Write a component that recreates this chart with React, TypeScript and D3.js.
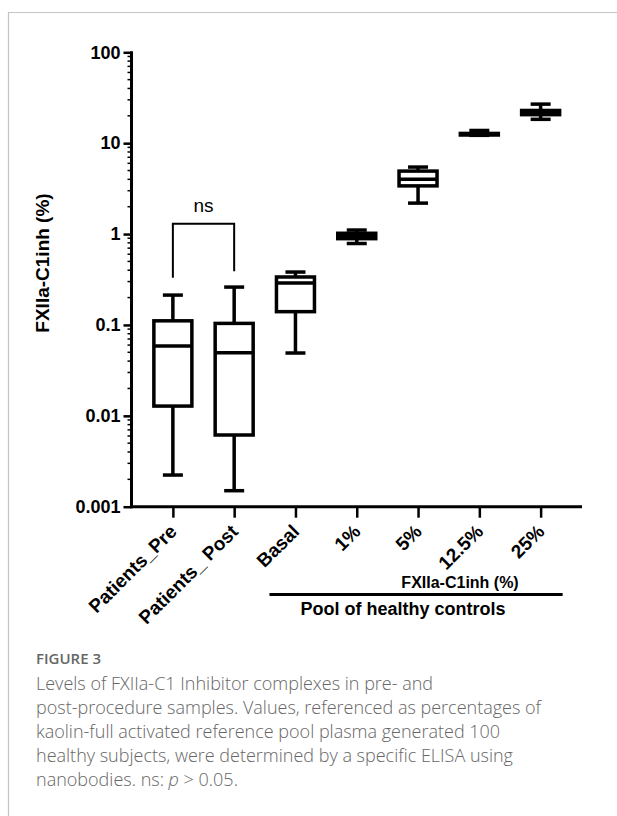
import { useRef, useEffect } from 'react';
import * as d3 from 'd3';

// groups on the x axis
const categories = ['Patients_Pre', 'Patients_ Post', 'Basal', '1%', '5%', '12.5%', '25%'];

// box statistics per group (FXIIa-C1inh, %)
const whiskerLow = [0.00223, 0.0015, 0.0491, 0.787, 2.19, 12.2, 18.3];
const quartile1 = [0.0128, 0.00615, 0.14, 0.89, 3.39, 12.3, 20.6];
const medians = [0.0586, 0.0494, 0.289, 0.95, 4.0, 12.6, 21.7];
const quartile3 = [0.111, 0.104, 0.337, 1.02, 4.93, 12.8, 22.9];
const whiskerHigh = [0.213, 0.261, 0.382, 1.107, 5.46, 13.8, 26.9];

const yTicks = [0.001, 0.01, 0.1, 1, 10, 100];
const yTickLabels = ['0.001', '0.01', '0.1', '1', '10', '100'];

const captionLines = [
    'Levels of FXIIa-C1 Inhibitor complexes in pre- and',
    'post-procedure samples. Values, referenced as percentages of',
    'kaolin-full activated reference pool plasma generated 100',
    'healthy subjects, were determined by a specific ELISA using',
];

function BoxPlot() {
    const ref = useRef<SVGSVGElement>(null);

    useEffect(() => {
        d3.select(ref.current).selectAll('*').remove();
        const svg = d3.select(ref.current);
        const font = '"Liberation Sans", Arial, sans-serif';

        // frame (top and left rule)
        svg.append('line').attr('x1', 8).attr('x2', 617).attr('y1', 12.5).attr('y2', 12.5)
            .attr('stroke', '#c4c4c4').attr('stroke-width', 1.2);
        svg.append('line').attr('x1', 8.5).attr('x2', 8.5).attr('y1', 12).attr('y2', 816)
            .attr('stroke', '#c4c4c4').attr('stroke-width', 1.2);

        const x = d3.scalePoint<string>()
            .domain(categories)
            .range([131.5, 582])
            .padding(0.675);

        const y = d3.scaleLog()
            .domain([0.001, 100])
            .range([506.7, 52.3]);

        const g = svg.append('g');

        // y axis with minor ticks
        const minor: number[] = [];
        for (let e = -3; e < 2; e++) {
            for (let m = 2; m <= 9; m++) minor.push(m * Math.pow(10, e));
        }
        const yAxis = g.append('g')
            .attr('transform', 'translate(131.5,0)')
            .call(d3.axisLeft(y).tickValues(yTicks)
                .tickFormat((d, i) => yTickLabels[i]).tickSize(8).tickPadding(3));
        yAxis.select('.domain').attr('stroke-width', 3).attr('d', `M0,${y(0.001) + 1.5}V${y(100) - 1}`);
        yAxis.selectAll('.tick line').attr('stroke-width', 2.5);
        yAxis.selectAll('text')
            .attr('font-family', font).attr('font-weight', 'bold').attr('font-size', 18)
            .attr('fill', '#000');
        yAxis.selectAll('.minor')
            .data(minor)
            .enter().append('line')
            .attr('class', 'minor')
            .attr('x1', -4).attr('x2', 0)
            .attr('y1', d => y(d)).attr('y2', d => y(d))
            .attr('stroke', '#000').attr('stroke-width', 1.5);

        // x axis
        const xAxis = g.append('g')
            .attr('transform', `translate(0,${y(0.001)})`)
            .call(d3.axisBottom(x).tickSize(11).tickFormat(() => ''));
        xAxis.select('.domain').attr('stroke-width', 3).attr('d', 'M130,0H582');
        xAxis.selectAll('.tick line').attr('stroke-width', 2.5);

        g.selectAll('.xlabel')
            .data(categories)
            .enter().append('text')
            .attr('class', 'xlabel')
            .attr('transform', d => `translate(${(x(d) as number) + 5},${y(0.001) + 26}) rotate(-45)`)
            .attr('text-anchor', 'end')
            .attr('font-family', font).attr('font-weight', 'bold').attr('font-size', 19)
            .text(d => d);

        // y label
        svg.append('text')
            .attr('transform', 'translate(49,263) rotate(-90)')
            .attr('text-anchor', 'middle')
            .attr('font-family', font).attr('font-weight', 'bold').attr('font-size', 19)
            .text('FXIIa-C1inh (%)');

        // boxes
        const boxW = 38;
        const capW = 20;
        const boxes = g.selectAll('.box')
            .data(categories)
            .enter().append('g')
            .attr('class', 'box')
            .attr('transform', d => `translate(${x(d)},0)`);

        boxes.append('line')
            .attr('y1', (d, i) => y(whiskerLow[i])).attr('y2', (d, i) => y(quartile1[i]))
            .attr('stroke', '#000').attr('stroke-width', 3.5);
        boxes.append('line')
            .attr('y1', (d, i) => y(quartile3[i])).attr('y2', (d, i) => y(whiskerHigh[i]))
            .attr('stroke', '#000').attr('stroke-width', 3.5);
        boxes.append('line')
            .attr('x1', -capW / 2).attr('x2', capW / 2)
            .attr('y1', (d, i) => y(whiskerLow[i])).attr('y2', (d, i) => y(whiskerLow[i]))
            .attr('stroke', '#000').attr('stroke-width', 3.5);
        boxes.append('line')
            .attr('x1', -capW / 2).attr('x2', capW / 2)
            .attr('y1', (d, i) => y(whiskerHigh[i])).attr('y2', (d, i) => y(whiskerHigh[i]))
            .attr('stroke', '#000').attr('stroke-width', 3.5);
        boxes.append('rect')
            .attr('x', -boxW / 2).attr('width', boxW)
            .attr('y', (d, i) => y(quartile3[i]))
            .attr('height', (d, i) => y(quartile1[i]) - y(quartile3[i]))
            .attr('fill', '#fff').attr('stroke', '#000').attr('stroke-width', 3.5);
        boxes.append('line')
            .attr('x1', -boxW / 2).attr('x2', boxW / 2)
            .attr('y1', (d, i) => y(medians[i])).attr('y2', (d, i) => y(medians[i]))
            .attr('stroke', '#000').attr('stroke-width', 3.5);

        // significance bracket
        const xa = x(categories[0]) as number;
        const xb = x(categories[1]) as number;
        g.append('path')
            .attr('d', `M${xa},${y(0.33)}V${y(1.3)}H${xb}V${y(0.39)}`)
            .attr('fill', 'none').attr('stroke', '#000').attr('stroke-width', 2);
        g.append('text')
            .attr('x', (xa + xb) / 2).attr('y', y(1.3) - 12)
            .attr('text-anchor', 'middle')
            .attr('font-family', font).attr('font-size', 19)
            .text('ns');

        // group annotation under the control groups
        const xc = x(categories[2]) as number;
        const xd = x(categories[6]) as number;
        g.append('text')
            .attr('x', (xc + xd) / 2 + 42).attr('y', 588)
            .attr('text-anchor', 'middle')
            .attr('font-family', font).attr('font-weight', 'bold').attr('font-size', 16)
            .text('FXIIa-C1inh (%)');
        g.append('line')
            .attr('x1', xc - 26).attr('x2', xd + 22)
            .attr('y1', 594.5).attr('y2', 594.5)
            .attr('stroke', '#000').attr('stroke-width', 3);
        g.append('text')
            .attr('x', (xc + xd) / 2 - 15).attr('y', 615)
            .attr('text-anchor', 'middle')
            .attr('font-family', font).attr('font-weight', 'bold').attr('font-size', 18)
            .text('Pool of healthy controls');

        // caption
        const cap = svg.append('g').attr('font-family', '"Open Sans", sans-serif').attr('fill', '#666');
        cap.append('text')
            .attr('x', 36).attr('y', 664)
            .attr('font-size', 15).attr('font-weight', 600)
            .text('FIGURE 3');
        cap.selectAll('.cline')
            .data(captionLines)
            .enter().append('text')
            .attr('class', 'cline')
            .attr('x', 36).attr('y', (d, i) => 690 + i * 24)
            .attr('font-size', 18).attr('font-weight', 300)
            .text(d => d);
        const last = cap.append('text')
            .attr('x', 36).attr('y', 690 + 4 * 24)
            .attr('font-size', 18).attr('font-weight', 300);
        last.append('tspan').text('nanobodies. ns: ');
        last.append('tspan').attr('font-style', 'italic').text('p');
        last.append('tspan').text(' > 0.05.');
    }, []);

    return <svg ref={ref} width={617} height={816} style={{ display: 'block' }} />;
}

export default function App() {
    return (
        <div style={{ position: 'absolute', left: 0, top: 0, background: '#fff' }}>
            <BoxPlot />
        </div>
    );
}
